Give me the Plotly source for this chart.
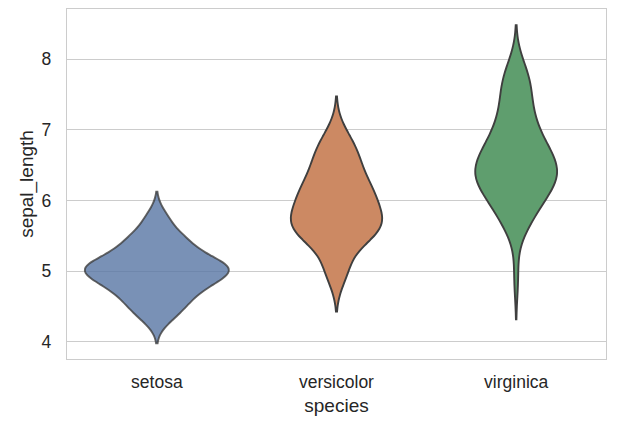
import numpy as np
import plotly.graph_objects as go

species = ["setosa", "versicolor", "virginica"]
setosa = [5.1,4.9,4.7,4.6,5.0,5.4,4.6,5.0,4.4,4.9,5.4,4.8,4.8,4.3,5.8,5.7,5.4,5.1,5.7,5.1,
          5.4,5.1,4.6,5.1,4.8,5.0,5.0,5.2,5.2,4.7,4.8,5.4,5.2,5.5,4.9,5.0,5.5,4.9,4.4,5.1,
          5.0,4.5,4.4,5.0,5.1,4.8,5.1,4.6,5.3,5.0]
versicolor = [7.0,6.4,6.9,5.5,6.5,5.7,6.3,4.9,6.6,5.2,5.0,5.9,6.0,6.1,5.6,6.7,5.6,5.8,6.2,5.6,
              5.9,6.1,6.3,6.1,6.4,6.6,6.8,6.7,6.0,5.7,5.5,5.5,5.8,6.0,5.4,6.0,6.7,6.3,5.6,5.5,
              5.5,6.1,5.8,5.0,5.6,5.7,5.7,6.2,5.1,5.7]
virginica = [6.3,5.8,7.1,6.3,6.5,7.6,4.9,7.3,6.7,7.2,6.5,6.4,6.8,5.7,5.8,6.4,6.5,7.7,7.7,6.0,
             6.9,5.6,7.7,6.3,6.7,7.2,6.2,6.1,6.4,7.2,7.4,7.9,6.4,6.3,6.1,7.7,6.3,6.4,6.0,6.9,
             6.7,6.9,5.8,6.8,6.7,6.7,6.3,6.5,6.2,5.9]
values = [setosa, versicolor, virginica]

fills = ["rgba(88,117,164,0.8)", "rgb(204,137,99)", "rgb(95,158,110)"]
lines = ["rgba(63,63,63,0.8)", "rgb(63,63,63)", "rgb(63,63,63)"]

# Scott's rule bandwidth (as seaborn/scipy) and area scaling
bws, peaks = [], []
for v in values:
    a = np.asarray(v)
    bw = a.std(ddof=1) * len(a) ** (-1 / 5)
    grid = np.linspace(a.min() - 2 * bw, a.max() + 2 * bw, 400)
    dens = np.exp(-0.5 * ((grid[:, None] - a[None, :]) / bw) ** 2).sum(1) / (len(a) * bw * np.sqrt(2 * np.pi))
    bws.append(bw)
    peaks.append(dens.max())
maxpeak = max(peaks)

fig = go.Figure()
for name, v, fc, lc, bw, pk in zip(species, values, fills, lines, bws, peaks):
    fig.add_trace(go.Violin(
        x=[name] * len(v), y=v, name=name,
        bandwidth=bw, spanmode="soft", points=False,
        box_visible=False, meanline_visible=False,
        fillcolor=fc, line=dict(color=lc, width=1.9),
        width=0.8 * pk / maxpeak, scalemode="width",
        showlegend=False, hoverinfo="skip",
    ))

font = "Arial, Liberation Sans, sans-serif"
fig.update_layout(
    width=640, height=427,
    margin=dict(l=67, r=34, t=9, b=68),
    paper_bgcolor="white", plot_bgcolor="white",
    violinmode="overlay",
    font=dict(family=font, color="#262626", size=17.5),
    xaxis=dict(
        type="category", categoryorder="array", categoryarray=species,
        range=[-0.5, 2.5], showgrid=False, zeroline=False,
        showline=True, linecolor="#cccccc", linewidth=1.3, mirror=True,
        ticks="", ticklabelstandoff=7, tickfont=dict(size=17.5, color="#262626"),
        title=dict(text="species", font=dict(size=19, color="#262626"), standoff=7),
    ),
    yaxis=dict(
        range=[3.755, 8.71], tickvals=[4, 5, 6, 7, 8],
        showgrid=True, gridcolor="#cccccc", gridwidth=1.1, zeroline=False,
        showline=True, linecolor="#cccccc", linewidth=1.3, mirror=True,
        ticks="", ticklabelstandoff=11, tickfont=dict(size=17.5, color="#262626"),
        title=dict(text="sepal_length", font=dict(size=19, color="#262626"), standoff=2),
    ),
)
fig.write_html("out.html")
